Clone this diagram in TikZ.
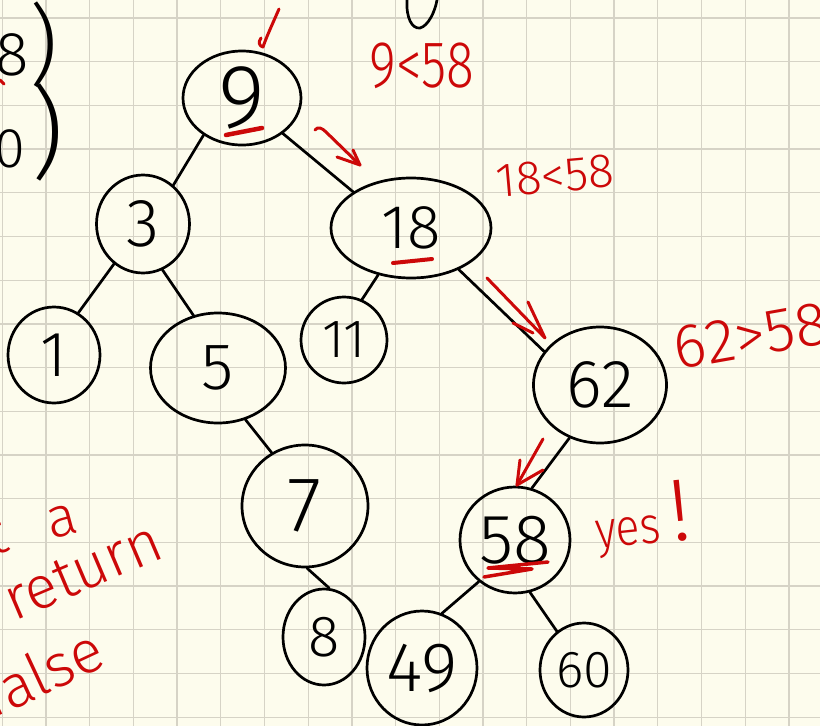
\documentclass[tikz,border=0pt]{standalone}
\usepackage{fontspec}
\usepackage{graphicx}
\usetikzlibrary{shapes.geometric}
\IfFontExistsTF{Fira Sans Light}{\newfontfamily\hand{Fira Sans Light}}{%
  \IfFontExistsTF{DejaVuSans-ExtraLight.ttf}{\newfontfamily\hand{DejaVuSans-ExtraLight.ttf}}{\newfontfamily\hand{Fira Sans}}}
\definecolor{paper}{RGB}{253,252,237}
\definecolor{gridc}{RGB}{214,211,198}
\definecolor{ink}{RGB}{0,0,0}
\definecolor{redink}{RGB}{204,8,8}
\newcommand{\hsz}[1]{\fontsize{#1}{#1}\selectfont}
\begin{document}
\begin{tikzpicture}[x=1pt,y=-1pt,
  bst/.style={ellipse, draw=ink, line width=2.7pt, inner sep=0pt, text=ink},
  link/.style={draw=ink, line width=2.7pt, line cap=round},
  redpen/.style={draw=redink, line width=3pt, line cap=round, line join=round},
  underl/.style={draw=redink, line width=4.5pt, line cap=round, line join=round},
  blackpen/.style={draw=ink, line width=2.7pt, line cap=round},
  redword/.style={text=redink, inner sep=0pt},
  blackword/.style={text=ink, inner sep=0pt},
  gridline/.style={draw=gridc, line width=1.3pt}]
\useasboundingbox (0,0) rectangle (820,726);
\clip (0,0) rectangle (820,726);
\fill[paper] (0,0) rectangle (820,726);
\foreach \k in {0,...,18} \draw[gridline] ({2.3+43.7*\k},0) -- ({2.3+43.7*\k},726);
\foreach \k in {0,...,16} \draw[gridline] (0,{18+43.7*\k}) -- (820,{18+43.7*\k});

% tree nodes
\node[bst, minimum width=118pt, minimum height=94pt, font={\hand\hsz{90}}] (n9) at (242,98) {9};
\node[bst, minimum width=93pt, minimum height=98pt, font={\hand\hsz{68}}] (n3) at (143,224) {3};
\node[bst, minimum width=160pt, minimum height=100pt, font={\hand\hsz{62}}] (n18) at (411,228) {18};
\node[bst, minimum width=92pt, minimum height=96pt, font={\hand\hsz{64}}] (n1) at (54,355) {1};
\node[bst, minimum width=135pt, minimum height=110pt, font={\hand\hsz{66}}] (n5) at (218,368) {5};
\node[bst, minimum width=86pt, minimum height=86pt, font={\hand\hsz{54}}] (n11) at (344,340) {11};
\node[bst, minimum width=133pt, minimum height=116pt, font={\hand\hsz{68}}] (n62) at (600,385) {62};
\node[bst, minimum width=126pt, minimum height=122pt, font={\hand\hsz{78}}] (n7) at (305,506) {7};
\node[bst, minimum width=110pt, minimum height=106pt, font={\hand\hsz{70}}] (n58) at (515,540) {58};
\node[bst, minimum width=82pt, minimum height=96pt, font={\hand\hsz{58}}] (n8) at (324,637) {8};
\node[bst, minimum width=110pt, minimum height=114pt, font={\hand\hsz{70}}] (n49) at (422,668) {49};
\node[bst, minimum width=88pt, minimum height=94pt, font={\hand\hsz{52}}] (n60) at (584,670) {60};

% edges
\draw[link] (n9.224) -- (n3.52);
\draw[link] (n9.319) -- (n18.148);
\draw[link] (n3.234) -- (n1.60);
\draw[link] (n3.293) -- (n5.115);
\draw[link] (n18.235) -- (n11.66);
\draw[link] (n18.319) -- (n62.149);
\draw[link] (n5.298) -- (n7.122);
\draw[link] (n7.272) -- (n8.84);
\draw[link] (n62.240) -- (n58.72);
\draw[link] (n58.229) -- (n49.70);
\draw[link] (n58.286) -- (n60.125);

% red underlines
\draw[underl] (226,135) -- (262,128);
\draw[underl, line width=4pt] (393,263) -- (432,259);
\draw[redpen, line width=3.5pt] (548,562) -- (488,568) -- (532,569) -- (484,577);

% red arrows and marks
\draw[redpen] (279,9) .. controls (272,25) and (266,38) .. (263,47) .. controls (259,46) and (258,42) .. (261,38);
\draw[redpen] (315,130) .. controls (318,126) and (322,128) .. (326,132) -- (360,165);
\draw[redpen] (337,157) -- (360,165) -- (353,150);
\draw[redpen] (487,278) -- (545,338) -- (528,302);
\draw[redpen] (513,323) -- (533,333);
\draw[redpen] (543,439) -- (517,485);
\draw[redpen] (520,460) -- (517,485) -- (543,470);
\draw[redpen] (0,80) -- (4,84);

% black scribble at the top
\draw[blackpen] (407,0) .. controls (406,18) and (412,29) .. (420,28) .. controls (428,26) and (435,12) .. (437,0);

% red words
\node[redword, font={\hand\hsz{66}}] (t1) at (422,66) {\scalebox{0.78}[1]{9<58}};
\node[redword, font={\hand\hsz{48}}, rotate=5] (t2) at (555,176) {18<58};
\node[redword, font={\hand\hsz{62}}, rotate=10] (t3) at (751,336) {62>58};
\node[redword, font={\hand\hsz{52}}, anchor=base west, rotate=6] (t4) at (597,549) {\scalebox{0.86}[1]{yes}\hspace{10pt}{\hsz{88}!}};
\node[redword, font={\hand\hsz{56}}, rotate=15] (t5) at (32,526) {t\hspace{42pt}a};
\node[redword, font={\hand\hsz{60}}, rotate=23] (t6) at (83,571) {return};
\node[redword, font={\hand\hsz{60}}, rotate=25] (t7) at (42,672) {false};

% black words cut at the left edge
\node[blackword, font={\hand\hsz{62}}, anchor=base east] (t8) at (58,75) {58{\hsz{88})}};
\node[blackword, font={\hand\hsz{56}}, anchor=base east] (t9) at (64,167) {0\kern6pt{\hsz{100})}};
\end{tikzpicture}
\end{document}
